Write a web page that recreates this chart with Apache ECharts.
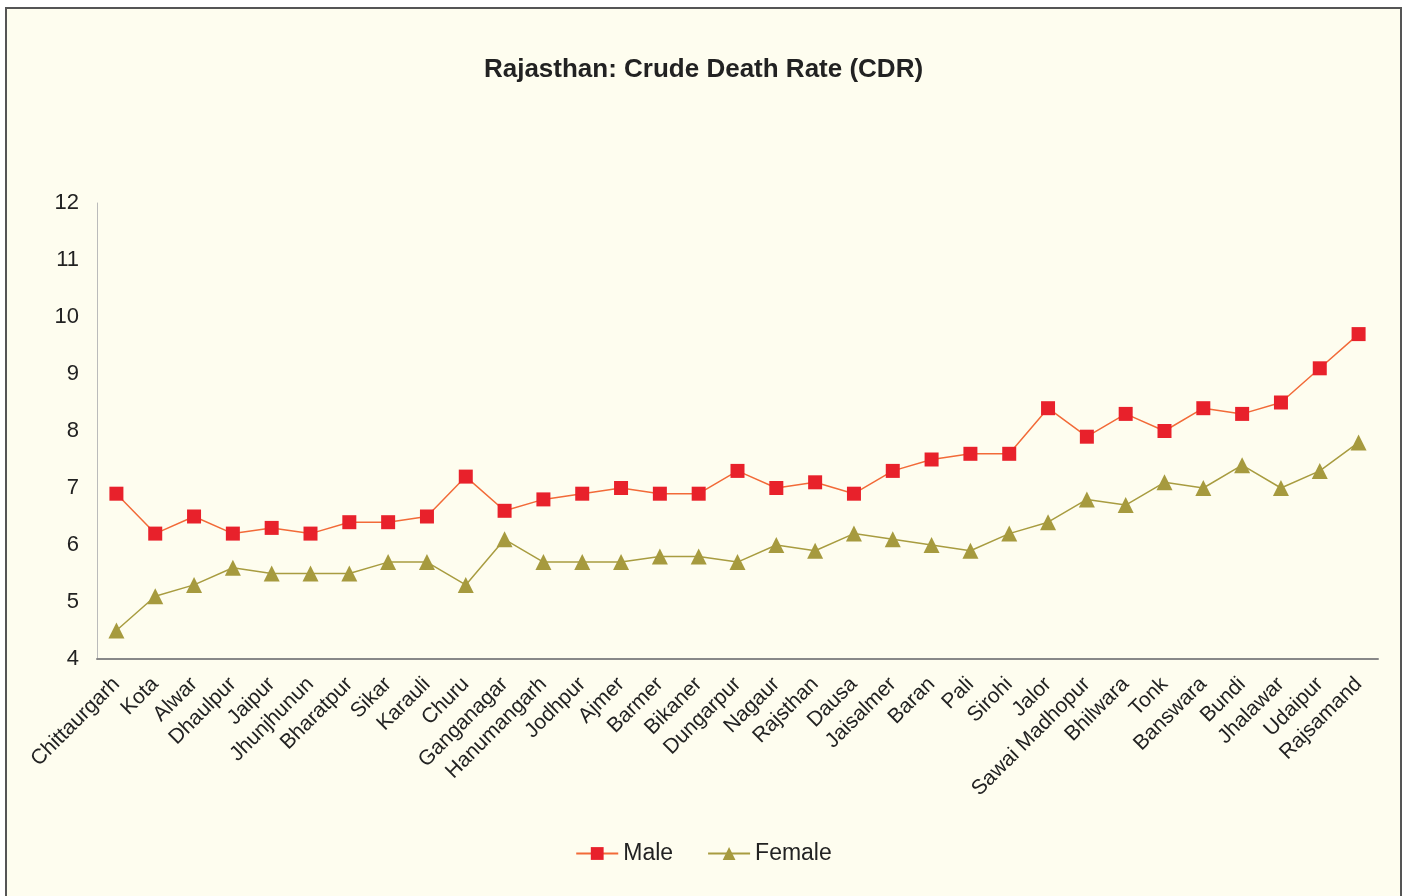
<!DOCTYPE html>
<html>
<head>
<meta charset="utf-8">
<script src="https://cdn.jsdelivr.net/npm/echarts@6/dist/echarts.min.js"></script>
<style>
  html, body { margin: 0; padding: 0; background: #fff; }
  #main { width: 1407px; height: 896px; }
</style>
</head>
<body>
<div id="main"></div>
<script>
var districts = ['Chittaurgarh', 'Kota', 'Alwar', 'Dhaulpur', 'Jaipur', 'Jhunjhunun', 'Bharatpur', 'Sikar',
  'Karauli', 'Churu', 'Ganganagar', 'Hanumangarh', 'Jodhpur', 'Ajmer', 'Barmer', 'Bikaner', 'Dungarpur',
  'Nagaur', 'Rajsthan', 'Dausa', 'Jaisalmer', 'Baran', 'Pali', 'Sirohi', 'Jalor', 'Sawai Madhopur',
  'Bhilwara', 'Tonk', 'Banswara', 'Bundi', 'Jhalawar', 'Udaipur', 'Rajsamand'];

var maleCDR = [6.9, 6.2, 6.5, 6.2, 6.3, 6.2, 6.4, 6.4, 6.5, 7.2, 6.6, 6.8, 6.9, 7.0, 6.9, 6.9, 7.3,
  7.0, 7.1, 6.9, 7.3, 7.5, 7.6, 7.6, 8.4, 7.9, 8.3, 8.0, 8.4, 8.3, 8.5, 9.1, 9.7];

var femaleCDR = [4.5, 5.1, 5.3, 5.6, 5.5, 5.5, 5.5, 5.7, 5.7, 5.3, 6.1, 5.7, 5.7, 5.7, 5.8, 5.8, 5.7,
  6.0, 5.9, 6.2, 6.1, 6.0, 5.9, 6.2, 6.4, 6.8, 6.7, 7.1, 7.0, 7.4, 7.0, 7.3, 7.8];

var fontName = '"Liberation Sans Narrow", "Arial Narrow", "Liberation Sans", Arial, sans-serif';

var myChart = echarts.init(document.getElementById('main'));
var option = {
    backgroundColor: '#ffffff',
    textStyle: { fontFamily: fontName },
    graphic: [{
        type: 'rect',
        z: -10,
        shape: { x: 6, y: 8, width: 1395, height: 900 },
        style: { fill: '#fefdef', stroke: '#555', lineWidth: 2 }
    }],
    title: {
        text: 'Rajasthan: Crude Death Rate (CDR)',
        left: 'center',
        top: 52,
        textStyle: {
            fontFamily: fontName,
            fontSize: 26,
            fontWeight: 'bold',
            color: '#222'
        }
    },
    legend: {
        bottom: 26,
        left: 'center',
        itemWidth: 42,
        itemHeight: 16,
        itemGap: 34,
        textStyle: { fontFamily: fontName, fontSize: 23, color: '#222' },
        data: ['Male', 'Female']
    },
    grid: {
        left: 97,
        right: 29,
        top: 203,
        bottom: 237,
        containLabel: false
    },
    xAxis: {
        type: 'category',
        data: districts,
        boundaryGap: true,
        axisLine: { lineStyle: { color: '#888', width: 2 } },
        axisTick: { show: false },
        axisLabel: {
            interval: 0,
            rotate: 45,
            margin: 22,
            fontFamily: fontName,
            fontSize: 21,
            color: '#222'
        }
    },
    yAxis: {
        type: 'value',
        min: 4,
        max: 12,
        interval: 1,
        splitLine: { show: false },
        axisLine: { show: true, lineStyle: { color: '#bbb', width: 1 } },
        axisTick: { show: false },
        axisLabel: {
            margin: 18,
            fontFamily: fontName,
            fontSize: 22,
            color: '#222'
        }
    },
    series: [{
        name: 'Male',
        type: 'line',
        data: maleCDR,
        symbol: 'rect',
        symbolSize: 14,
        lineStyle: { color: '#f26a38', width: 1.5 },
        itemStyle: { color: '#e8212b' }
    }, {
        name: 'Female',
        type: 'line',
        data: femaleCDR,
        symbol: 'triangle',
        symbolSize: 16,
        lineStyle: { color: '#a89c40', width: 1.5 },
        itemStyle: { color: '#a69a3e' }
    }]
};

myChart.setOption(option);
</script>
</body>
</html>
